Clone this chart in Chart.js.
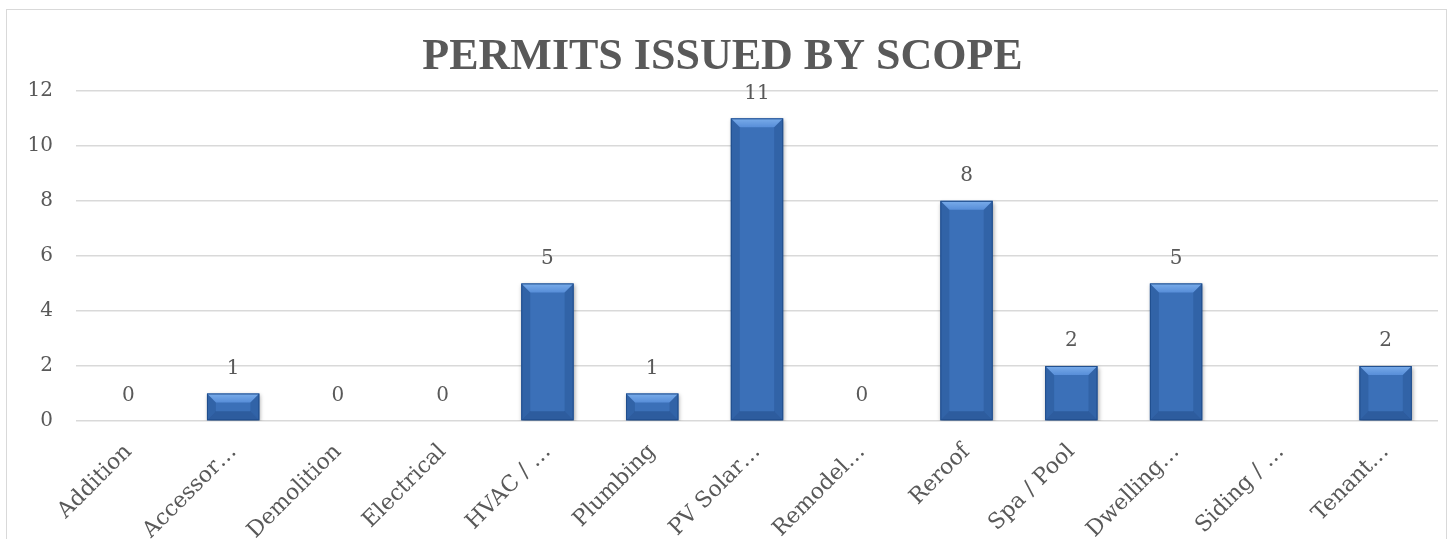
<!DOCTYPE html>
<html>
<head>
<meta charset="utf-8">
<script src="https://cdn.jsdelivr.net/npm/chart.js@4.4.0/dist/chart.umd.min.js"></script>
<style>
  html, body { margin: 0; padding: 0; background: #fff; overflow: hidden; }
  #box { position: absolute; left: 6px; top: 9px; width: 1439px; height: 600px; border: 1px solid #d9d9d9; }
  #wrap { position: absolute; left: 0; top: 0; width: 1439px; height: 545px; }
</style>
</head>
<body>
<div id="box"><div id="wrap"><canvas id="chart"></canvas></div></div>
<script>
// données du graphique
const categories = ['Addition', 'Accessor\u2026', 'Demolition', 'Electrical', 'HVAC / \u2026', 'Plumbing',
  'PV Solar\u2026', 'Remodel\u2026', 'Reroof', 'Spa / Pool', 'Dwelling\u2026', 'Siding / \u2026', 'Tenant\u2026'];
const permits = [0, 1, 0, 0, 5, 1, 11, 0, 8, 2, 5, null, 2];
const yTicks = [0, 2, 4, 6, 8, 10, 12];

const FONT = '"Palatino Linotype", "Book Antiqua", Palatino, "DejaVu Serif", serif';
const TITLE_FONT = '"Palatino Linotype", "Book Antiqua", "Liberation Serif", serif';
const GREY = '#595959';

// relevo nas barras
const bevelPlugin = {
  id: 'bevel',
  beforeDatasetsDraw(chart) {
    const ctx = chart.ctx;
    ctx.save();
    ctx.shadowColor = 'rgba(0,0,0,0.35)';
    ctx.shadowBlur = 4;
    ctx.shadowOffsetX = 1;
    ctx.shadowOffsetY = 2;
  },
  afterDatasetsDraw(chart) {
    const ctx = chart.ctx;
    ctx.restore();
    const meta = chart.getDatasetMeta(0);
    meta.data.forEach((bar, i) => {
      if (permits[i] == null || permits[i] === 0) return;
      const x0 = bar.x - bar.width / 2, x1 = bar.x + bar.width / 2;
      const y0 = bar.y, y1 = bar.base;
      const b = Math.min(9, (y1 - y0) / 3);
      ctx.save();
      // topo
      let g = ctx.createLinearGradient(0, y0, 0, y0 + b);
      g.addColorStop(0, 'rgba(130,180,240,0.9)');
      g.addColorStop(1, 'rgba(95,150,225,0.8)');
      ctx.fillStyle = g;
      ctx.beginPath(); ctx.moveTo(x0, y0); ctx.lineTo(x1, y0); ctx.lineTo(x1 - b, y0 + b); ctx.lineTo(x0 + b, y0 + b); ctx.closePath(); ctx.fill();
      // lados
      ctx.fillStyle = 'rgba(25,70,130,0.3)';
      ctx.beginPath(); ctx.moveTo(x0, y0); ctx.lineTo(x0 + b, y0 + b); ctx.lineTo(x0 + b, y1 - b); ctx.lineTo(x0, y1); ctx.closePath(); ctx.fill();
      ctx.beginPath(); ctx.moveTo(x1, y0); ctx.lineTo(x1 - b, y0 + b); ctx.lineTo(x1 - b, y1 - b); ctx.lineTo(x1, y1); ctx.closePath(); ctx.fill();
      // base
      ctx.fillStyle = 'rgba(20,55,110,0.35)';
      ctx.beginPath(); ctx.moveTo(x0, y1); ctx.lineTo(x1, y1); ctx.lineTo(x1 - b, y1 - b); ctx.lineTo(x0 + b, y1 - b); ctx.closePath(); ctx.fill();
      ctx.strokeStyle = '#1f4d8c';
      ctx.lineWidth = 1;
      ctx.strokeRect(x0 + 0.5, y0 + 0.5, bar.width - 1, y1 - y0 - 1);
      ctx.restore();
    });
  }
};

// rótulos de valor
const valueLabels = {
  id: 'valueLabels',
  afterDraw(chart) {
    const ctx = chart.ctx;
    const meta = chart.getDatasetMeta(0);
    ctx.save();
    ctx.font = '20px ' + FONT;
    ctx.fillStyle = GREY;
    ctx.textAlign = 'center';
    ctx.textBaseline = 'bottom';
    meta.data.forEach((bar, i) => {
      if (permits[i] == null) return;
      ctx.fillText(String(permits[i]), bar.x, bar.y - 15);
    });
    ctx.restore();
  }
};

new Chart(document.getElementById('chart'), {
  type: 'bar',
  data: {
    labels: categories,
    datasets: [{
      data: permits,
      backgroundColor: '#3b70b8',
      borderWidth: 0,
      barPercentage: 0.5,
      categoryPercentage: 1.0
    }]
  },
  options: {
    responsive: true,
    maintainAspectRatio: false,
    animation: false,
    layout: { padding: { left: 0, right: 8, top: 10, bottom: 0 } },
    plugins: {
      legend: { display: false },
      tooltip: { enabled: false },
      title: {
        display: true,
        text: 'PERMITS ISSUED BY SCOPE',
        color: GREY,
        font: { family: TITLE_FONT, size: 44, weight: 'bold' },
        padding: { top: 11, bottom: 7 }
      }
    },
    scales: {
      y: {
        min: 0,
        max: 12,
        afterBuildTicks(axis) { axis.ticks = yTicks.map(v => ({ value: v })); },
        afterFit(axis) { axis.width = 69; },
        border: { display: false },
        grid: { color: '#d9d9d9', lineWidth: 1.5, drawTicks: false },
        ticks: { color: GREY, padding: 23, font: { family: FONT, size: 20 } }
      },
      x: {
        afterFit(axis) { axis.height = 134; },
        border: { display: false },
        grid: { display: false },
        ticks: { color: GREY, maxRotation: 45, minRotation: 45, autoSkip: false, padding: 10, font: { family: FONT, size: 22 } }
      }
    }
  },
  plugins: [bevelPlugin, valueLabels]
});
</script>
</body>
</html>
